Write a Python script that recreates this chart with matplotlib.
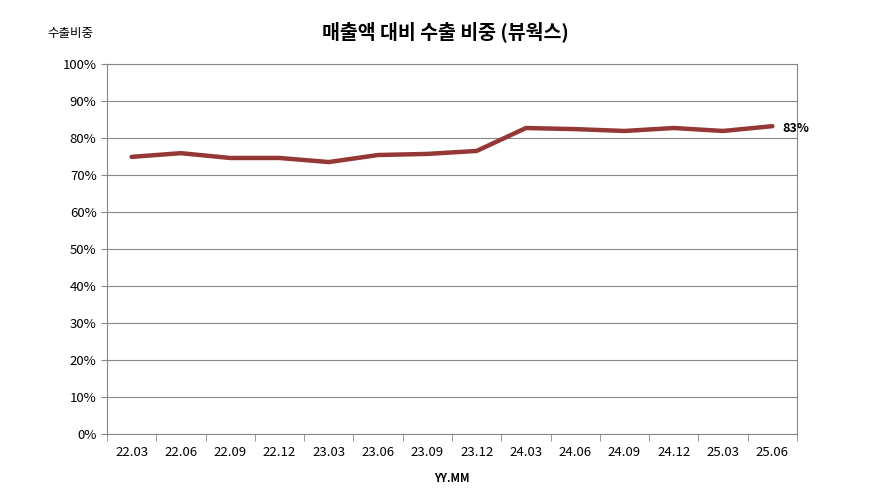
import matplotlib
matplotlib.use("Agg")
import matplotlib.pyplot as plt
from matplotlib.ticker import FixedLocator

plt.rcParams["font.family"] = ["Noto Sans CJK JP", "Noto Sans CJK KR", "Noto Sans CJK SC", "DejaVu Sans"]

categories = ["22.03","22.06","22.09","22.12","23.03","23.06","23.09","23.12",
              "24.03","24.06","24.09","24.12","25.03","25.06"]
values = [74.9, 75.9, 74.6, 74.6, 73.5, 75.4, 75.7, 76.5, 82.7, 82.4, 81.9, 82.7, 81.9, 83.2]
yticks = list(range(0, 101, 10))

fig = plt.figure(figsize=(8.93, 5.01), dpi=100)
ax = fig.add_axes([107/893, 67/501, 690/893, 370/501])
x = list(range(len(categories)))
ax.plot(x, values, color="#953735", lw=3.2, solid_capstyle="round")
ax.set_xlim(-0.5, len(categories) - 0.5)
ax.set_ylim(0, 100)
ax.set_yticks(yticks)
ax.set_yticklabels([f"{v}%" for v in yticks], fontsize=9.5)
ax.set_xticks(x)
ax.set_xticklabels(categories, fontsize=9.5)
ax.tick_params(axis="x", length=0, pad=9)
ax.xaxis.set_minor_locator(FixedLocator([i - 0.5 for i in range(len(categories) + 1)]))
ax.tick_params(axis="x", which="minor", length=5, color="#888888")
ax.tick_params(axis="y", length=4, color="#888888")
ax.grid(axis="y", color="#888888", lw=0.8)
for s in ax.spines.values():
    s.set_color("#888888")
    s.set_linewidth(0.8)
ax.text(x[-1] + 0.2, values[-1] - 0.7, f"{round(values[-1])}%", fontsize=9,
        fontweight="bold", va="center", ha="left")
fig.text(445/893, 1 - 32/501, "매출액 대비 수출 비중 (뷰웍스)", fontsize=14,
         fontweight="bold", ha="center", va="center")
fig.text(70/893, 1 - 33/501, "수출비중", fontsize=9, ha="center", va="center")
fig.text(452/893, 1 - 478/501, "YY.MM", fontsize=8, fontweight="bold", ha="center", va="center")
fig.savefig("out.png", dpi=100)
